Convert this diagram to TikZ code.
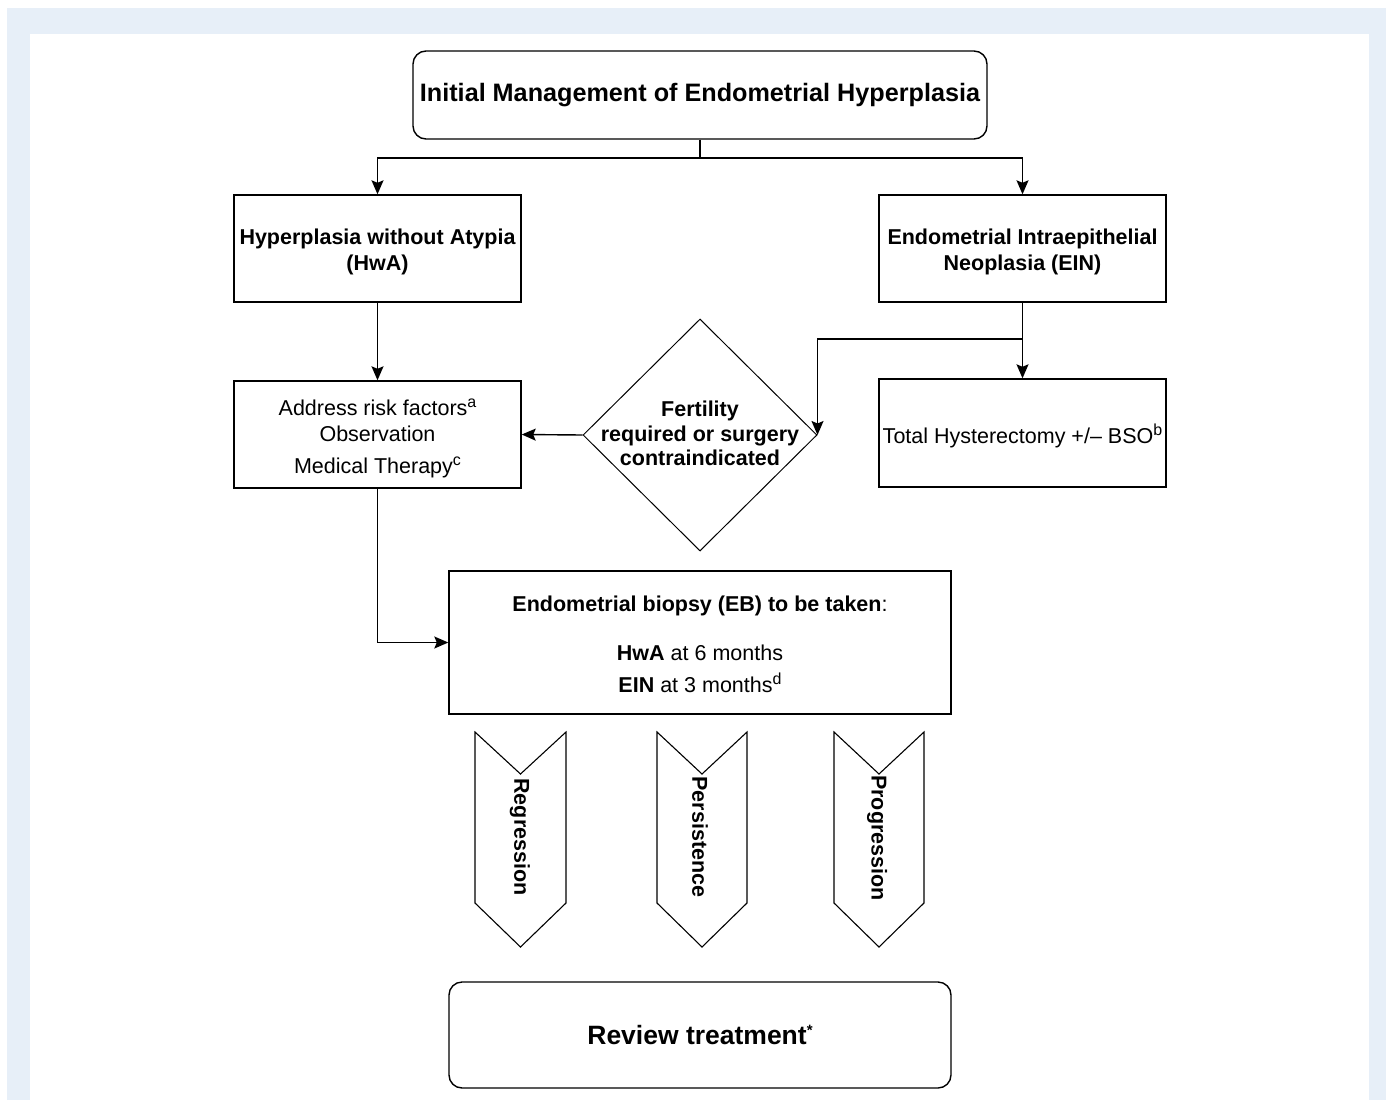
\documentclass[tikz,border=0pt]{standalone}
\usepackage{fontspec}
\setmainfont{Liberation Sans}
\usetikzlibrary{shapes.geometric,arrows.meta}
\definecolor{pageblue}{RGB}{231,239,248}
\newcommand{\supnote}[1]{\raisebox{8pt}{\fontsize{16}{16}\selectfont #1}}
\begin{document}
\begin{tikzpicture}[x=1pt,y=-1pt,
  base/.style={font=\fontsize{21.5}{26}\selectfont},
  plainbox/.style={draw, line width=1.4pt, minimum width=287pt, minimum height=107pt, inner sep=0pt},
  roundbox/.style={plainbox, rounded corners=13pt, align=center},
  boxtext/.style={align=center, inner sep=0pt, yshift=-3pt, base},
  arr/.style={line width=1.4pt, -{Stealth[length=14pt,width=12pt,inset=2.5pt]}},
  link/.style={line width=1.4pt},
  chev/.style={draw, line width=1.1pt, line join=miter},
  chevtext/.style={rotate=-90, font=\fontsize{21.5}{25}\selectfont\bfseries}
]
\useasboundingbox (0,0) rectangle (1386,1100);
\fill[white] (0,0) rectangle (1386,1100);
\fill[pageblue] (7,8) rectangle (1386,1100);
\fill[white] (30,34) rectangle (1369,1100);

% nodes
\node[roundbox, minimum width=574pt, minimum height=88pt, font=\fontsize{25.2}{30}\selectfont\bfseries] (title) at (700,95) {Initial Management of Endometrial Hyperplasia};

\node[plainbox] (hwa) at (377.5,248.5) {};
\node[boxtext, font=\fontsize{21.5}{26}\selectfont\bfseries] (hwatext) at (hwa.center) {Hyperplasia without Atypia\\(HwA)};
\node[plainbox] (ein) at (1022.5,248.5) {};
\node[boxtext, font=\fontsize{21.5}{26}\selectfont\bfseries] (eintext) at (ein.center) {Endometrial Intraepithelial\\Neoplasia (EIN)};

\node[plainbox] (addr) at (377.5,434.5) {};
\node[boxtext, yshift=-1pt] (addrtext) at (addr.center) {Address risk factors\supnote{a}\\Observation\\[6pt]Medical Therapy\supnote{c}};

\node[diamond, draw, line width=1pt, minimum width=234pt, minimum height=232pt, inner sep=0pt] (dia) at (700,435) {};
\node[align=center, yshift=1.5pt, font=\fontsize{21.5}{24.5}\selectfont\bfseries] (diatext) at (dia.center) {Fertility\\required or surgery\\contraindicated};

\node[plainbox, minimum height=108pt] (total) at (1022.5,433) {};
\node[boxtext] (totaltext) at (total.center) {Total Hysterectomy +/– BSO\supnote{b}};

\node[plainbox, minimum width=502pt, minimum height=143pt] (eb) at (700,642.5) {};
\node[boxtext, yshift=1.5pt] (ebtext) at (eb.center) {\textbf{Endometrial biopsy (EB) to be taken}:\\[23pt]\textbf{HwA} at 6 months\\[6pt]\textbf{EIN} at 3 months\supnote{d}};

\node[roundbox, minimum width=502pt, minimum height=106pt, font=\fontsize{26.5}{30}\selectfont\bfseries] (review) at (700,1035) {Review treatment\raisebox{9pt}{\fontsize{15}{15}\selectfont *}};

% connectors
\coordinate (split) at (700,158);
\draw[link] (title.south) -- (split);
\draw[arr] (split) -| (hwa.north);
\draw[arr] (split) -| (ein.north);
\draw[arr] (hwa.south) -- (addr.north);
\draw[arr] (dia.west) -- (addr.east);
\coordinate (einsplit) at (1022.5,339);
\draw[link] (ein.south) -- (einsplit);
\draw[arr] (einsplit) -- (total.north);
\draw[arr] (einsplit) -| (dia.east);
\draw[arr] (addr.south) |- (eb.west);

% chevrons
\draw[chev] (475,732) -- (520.5,774) -- (566,732) -- (566,903) -- (520.5,947) -- (475,903) -- cycle;
\node[chevtext] (reg) at (520,837) {Regression};
\draw[chev] (657,732) -- (702,774) -- (747,732) -- (747,903) -- (702,947) -- (657,903) -- cycle;
\node[chevtext] (per) at (700,837) {Persistence};
\draw[chev] (834,732) -- (879,774) -- (924,732) -- (924,903) -- (879,947) -- (834,903) -- cycle;
\node[chevtext] (pro) at (877,838) {Progression};
\end{tikzpicture}
\end{document}
